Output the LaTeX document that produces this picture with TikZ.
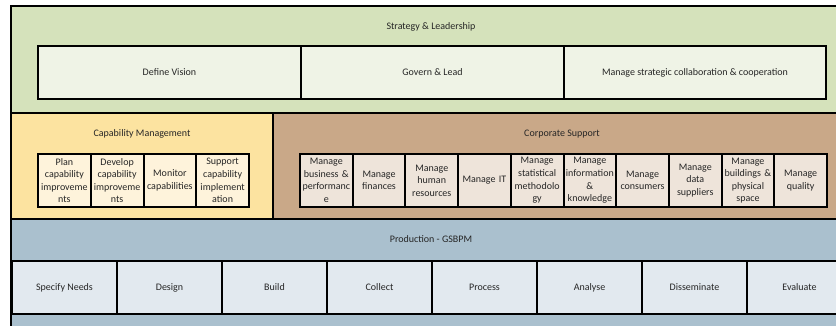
\documentclass[tikz,border=0pt]{standalone}
\usepackage{fontspec}
\setmainfont{Carlito}
\definecolor{grnbg}{HTML}{D5E2BB}
\definecolor{grnin}{HTML}{EFF3E6}
\definecolor{ylwbg}{HTML}{FCE3A0}
\definecolor{ylwin}{HTML}{FEF3DB}
\definecolor{brnbg}{HTML}{C9A888}
\definecolor{brnin}{HTML}{EEE4DA}
\definecolor{blubg}{HTML}{AAC0CE}
\definecolor{bluin}{HTML}{E2E9EF}
\definecolor{txt}{HTML}{262626}
\tikzset{
  panel/.style={draw=black, line width=1.6pt},
  cell/.style={draw=black, line width=2pt, inner sep=0pt, align=center,
     text=txt, font=\fontsize{10}{12.6}\selectfont, anchor=north west},
  ttl/.style={inner sep=0pt, text=txt, font=\fontsize{10}{12}\selectfont},
}
\begin{document}
\begin{tikzpicture}[x=1pt,y=-1pt]
\useasboundingbox (0,0) rectangle (836,325);
\fill[white] (0,0) rectangle (836,325);
\clip (0,0) rectangle (836,325);
% panels
\draw[panel, fill=grnbg] (11,6) rectangle (851,113);
\draw[panel, fill=ylwbg] (11,113) rectangle (273,219);
\draw[panel, fill=brnbg] (273,113) rectangle (851,219);
\draw[panel, fill=blubg] (11,219) rectangle (851,340);
% titles
\node[ttl] (tsl) at (431,27) {Strategy \& Leadership};
\node[ttl] (tcm) at (142,134) {Capability Management};
\node[ttl] (tcs) at (562,134) {Corporate Support};
\node[ttl] (tpr) at (431,239) {Production - GSBPM};
% strategy cells
\tikzset{scell/.style={cell, fill=grnin, minimum height=53pt}}
\node[scell, minimum width=263pt] (s1) at (37,45) {Define Vision};
\node[scell, minimum width=263pt] (s2) at (300,45) {Govern \& Lead};
\node[scell, minimum width=262pt] (s3) at (563,45) {Manage strategic collaboration \& cooperation};
% capability cells
\tikzset{ccell/.style={cell, fill=ylwin, minimum height=53pt, minimum width=52.75pt, text width=52pt}}
\node[ccell] (c1) at (37,153) {Plan\\capability\\improveme\\nts};
\node[ccell] (c2) at (89.75,153) {Develop\\capability\\improveme\\nts};
\node[ccell] (c3) at (142.5,153) {Monitor\\capabilities};
\node[ccell] (c4) at (195.25,153) {Support\\capability\\implement\\ation};
% corporate cells
\tikzset{kcell/.style={cell, fill=brnin, minimum height=53pt, minimum width=52.7pt, text width=52pt}}
\node[kcell] (k1) at (299,153) {Manage\\business \&\\performanc\\e};
\node[kcell] (k2) at (351.7,153) {Manage\\finances};
\node[kcell] (k3) at (404.4,153) {Manage\\human\\resources};
\node[kcell] (k4) at (457.1,153) {Manage IT};
\node[kcell] (k5) at (509.8,153) {Manage\\statistical\\methodolo\\gy};
\node[kcell] (k6) at (562.5,153) {Manage\\information\\\&\\knowledge};
\node[kcell] (k7) at (615.2,153) {Manage\\consumers};
\node[kcell] (k8) at (667.9,153) {Manage\\data\\suppliers};
\node[kcell] (k9) at (720.6,153) {Manage\\buildings \&\\physical\\space};
\node[kcell] (k10) at (773.3,153) {Manage\\quality};
% production cells
\tikzset{pcell/.style={cell, fill=bluin, minimum height=53pt, minimum width=105pt}}
\node[pcell] (p1) at (11,260) {Specify Needs};
\node[pcell] (p2) at (116,260) {Design};
\node[pcell] (p3) at (221,260) {Build};
\node[pcell] (p4) at (326,260) {Collect};
\node[pcell] (p5) at (431,260) {Process};
\node[pcell] (p6) at (536,260) {Analyse};
\node[pcell] (p7) at (641,260) {Disseminate};
\node[pcell] (p8) at (746,260) {Evaluate};
\end{tikzpicture}
\end{document}
